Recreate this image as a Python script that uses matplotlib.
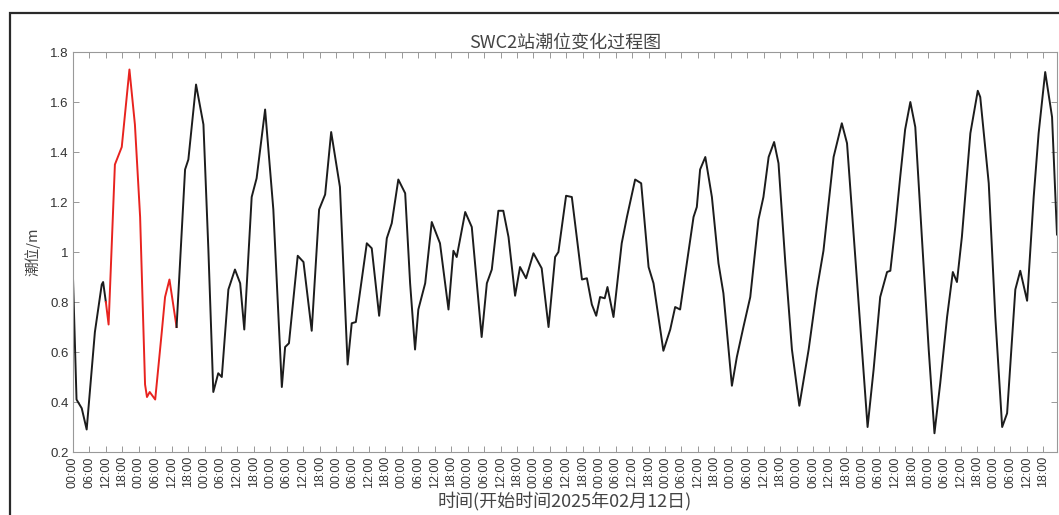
import numpy as np
import matplotlib
matplotlib.use("Agg")
import matplotlib.pyplot as plt
from matplotlib.patches import Rectangle

plt.rcParams['font.family'] = ['Liberation Sans', 'Noto Sans CJK SC', 'DejaVu Sans']

# hours since 2025-02-12 00:00, tide level [m]
hours = [0, 1.3, 3.2, 5, 8, 10.5, 11, 12, 13, 15.3, 17.8, 20.6, 22.6, 24.5, 26.3, 27,
         28, 30, 32.4, 33.6, 35.2, 37.8, 40.9, 42.1, 44.9, 47.6, 49.4, 51.2, 53, 54.3,
         56.7, 59.1, 61, 62.5, 65.2, 67, 70.1, 73.1, 76.2, 77.4, 78.8, 82, 84.1, 87.1,
         89.8, 92, 94.2, 97.4, 100.2, 101.7, 103.2, 107.2, 109, 111.7, 114.5, 116.3,
         118.7, 121.2, 123, 124.8, 126, 128.5, 130.9, 133.9, 137, 138.8, 140, 143.1,
         145.5, 149.1, 151, 152.8, 155.2, 157, 158.9, 161.3, 163.1, 165.3, 168, 171,
         173.5, 175.9, 177.1, 179.9, 182, 185.7, 187.5, 189.3, 190.9, 192.3, 194, 195,
         197.2, 200.2, 202.1, 205.1, 207.3, 210, 211.8, 215.4, 217.9, 219.7, 221.5,
         225.2, 226.4, 227.6, 228.8, 230.7, 233.1, 235.5, 237.3, 240.4, 242.2, 244.6,
         247.1, 250.1, 251.9, 253.8, 255.8, 257.4, 259.9, 262.3, 265, 268.4, 271.4,
         273.8, 277.5, 280.5, 282.4, 285.4, 287.8, 289.9, 292.1, 294.5, 297, 298.2,
         300, 301.8, 303.6, 305.5, 307.3, 309.7, 312.2, 314.3, 316.4, 318.9, 321,
         322.5, 324.3, 327.4, 330.1, 331, 334.1, 336.5, 339, 340.8, 343.8, 345.6,
         348.1, 350.5, 352.3, 354.7, 357.2, 359]
level = [0.90, 0.41, 0.375, 0.29, 0.68, 0.87, 0.88, 0.80, 0.71, 1.35, 1.42, 1.73, 1.51,
         1.14, 0.47, 0.42, 0.44, 0.41, 0.68, 0.82, 0.89, 0.70, 1.33, 1.37, 1.67, 1.51,
         1.01, 0.44, 0.515, 0.50, 0.85, 0.93, 0.875, 0.69, 1.22, 1.295, 1.57, 1.17,
         0.46, 0.62, 0.635, 0.985, 0.96, 0.685, 1.17, 1.23, 1.48, 1.26, 0.55, 0.715,
         0.72, 1.035, 1.015, 0.745, 1.055, 1.115, 1.29, 1.235, 0.875, 0.61, 0.77,
         0.875, 1.12, 1.035, 0.77, 1.005, 0.98, 1.16, 1.10, 0.66, 0.875, 0.93, 1.165,
         1.165, 1.06, 0.825, 0.94, 0.895, 0.995, 0.935, 0.70, 0.98, 1.0, 1.225, 1.22,
         0.89, 0.895, 0.79, 0.745, 0.82, 0.815, 0.86, 0.74, 1.035, 1.14, 1.29, 1.275,
         0.94, 0.875, 0.605, 0.69, 0.78, 0.77, 1.05, 1.14, 1.18, 1.33, 1.38, 1.22,
         0.955, 0.835, 0.465, 0.58, 0.70, 0.82, 1.13, 1.22, 1.38, 1.44, 1.355, 0.955,
         0.61, 0.385, 0.61, 0.85, 1.005, 1.38, 1.515, 1.435, 0.98, 0.61, 0.30, 0.53,
         0.82, 0.92, 0.925, 1.10, 1.30, 1.49, 1.60, 1.50, 1.06, 0.61, 0.275, 0.475,
         0.74, 0.92, 0.88, 1.06, 1.475, 1.645, 1.62, 1.275, 0.74, 0.30, 0.355, 0.85,
         0.925, 0.805, 1.22, 1.475, 1.72, 1.54, 1.07]
red_from, red_to = 12, 37.8   # highlighted part of the record

tick_hours = np.arange(0, 360, 6)
tick_names = ['00:00', '06:00', '12:00', '18:00']

t = np.array(hours)
h = np.array(level)

fig = plt.figure(figsize=(10.59, 5.15), dpi=100)
ax = fig.add_axes([0.0689, 0.1223, 0.9292, 0.7767])

m1 = t <= red_from
m2 = (t >= red_from) & (t <= red_to)
m3 = t >= red_to
ax.plot(t[m1], h[m1], color='#1c1c1c', lw=1.4)
ax.plot(t[m2], h[m2], color='#e8231f', lw=1.4)
ax.plot(t[m3], h[m3], color='#1c1c1c', lw=1.4)

ax.set_xlim(0, 359)
ax.set_ylim(0.2, 1.8)
ax.set_xticks(tick_hours)
ax.set_xticklabels([tick_names[i % 4] for i in range(len(tick_hours))],
                   rotation=90, fontsize=9, color='#333333')
ax.set_yticks(np.arange(0.2, 1.81, 0.2))
ax.set_yticklabels(['%g' % round(v, 1) for v in np.arange(0.2, 1.81, 0.2)],
                   fontsize=9.5, color='#333333')
ax.tick_params(direction='in', top=True, right=True, length=4, width=0.6,
               color='#888888', pad=3)
for s in ax.spines.values():
    s.set_color('#999999')
    s.set_linewidth(0.8)

ax.set_title('SWC2站潮位变化过程图', fontsize=13, color='#444444', pad=3,
             family=['Noto Sans CJK SC', 'DejaVu Sans'])
ax.set_xlabel('时间(开始时间2025年02月12日)', fontsize=13, color='#444444',
              labelpad=3, family=['Noto Sans CJK SC', 'DejaVu Sans'])
ax.set_ylabel('潮位/m', fontsize=10.5, color='#444444', labelpad=7,
              family=['Noto Sans CJK SC', 'DejaVu Sans'])

# dark frame around the figure
fig.patches.append(Rectangle((10 / 1059, -0.05), 1.1, 1.05 - 13 / 515,
                             transform=fig.transFigure, fill=False,
                             edgecolor='#2a2a2a', lw=1.6))

fig.savefig('out.png', dpi=100)
